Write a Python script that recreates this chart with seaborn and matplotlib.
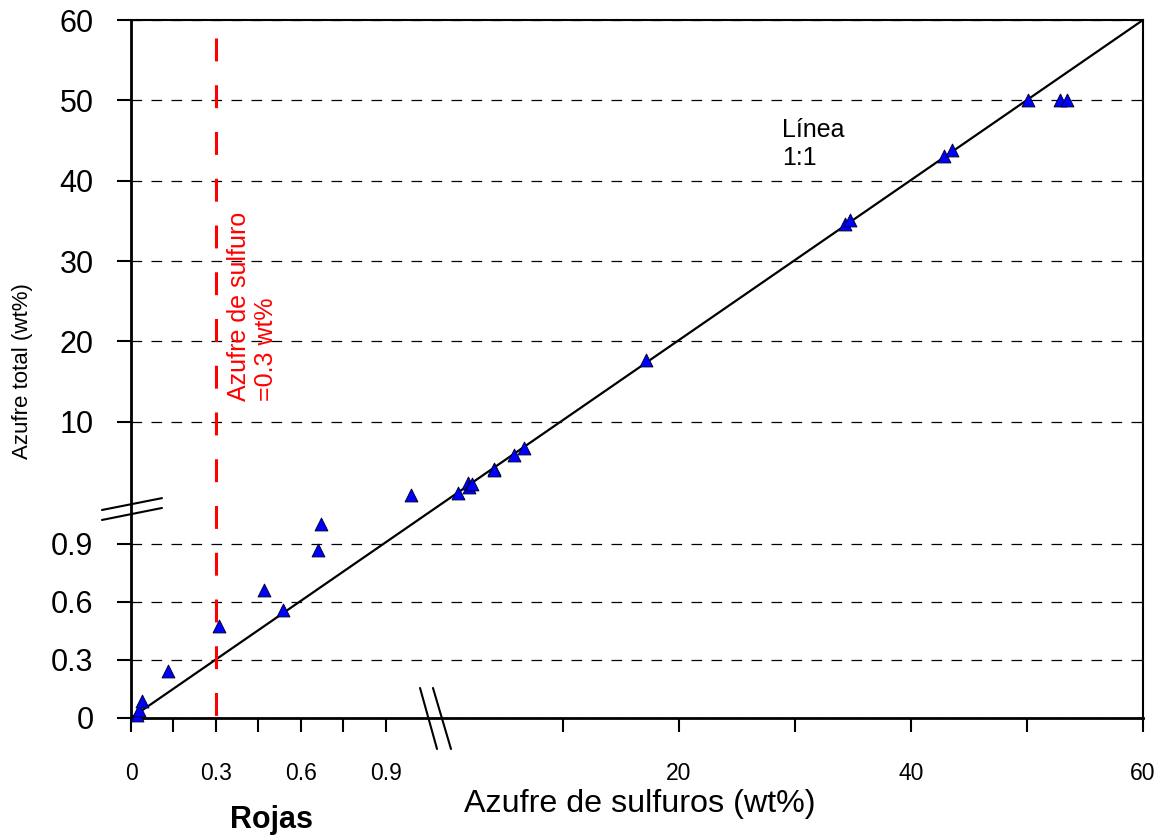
import numpy as np
import pandas as pd
import matplotlib
matplotlib.use('Agg')
import matplotlib.pyplot as plt
import seaborn as sns

# sulfide sulfur vs total sulfur (wt%)
sulfuro = [0.021, 0.029, 0.040, 0.130, 0.311, 0.469, 0.538, 0.660, 0.671, 0.988, 1.155,
           1.78, 1.90, 2.18, 4.05, 4.05, 5.80, 6.64, 17.13, 34.31, 34.74, 42.87, 43.56,
           50.09, 52.84, 53.45]
total = [0.016, 0.041, 0.088, 0.245, 0.476, 0.659, 0.559, 0.869, 1.002, 1.152, 1.162,
         2.36, 1.86, 2.27, 4.14, 3.93, 5.89, 6.72, 17.64, 34.55, 35.08, 43.06, 43.81,
         50.0, 50.0, 50.0]

x_ticks = [0, 0.15, 0.3, 0.45, 0.6, 0.75, 0.9, 10, 20, 30, 40, 50, 60]
x_labels = ['0', '', '0.3', '', '0.6', '', '0.9', '', '20', '', '40', '', '60']
y_ticks = [0, 0.3, 0.6, 0.9, 10, 20, 30, 40, 50, 60]
y_labels = ['0', '0.3', '0.6', '0.9', '10', '20', '30', '40', '50', '60']
umbral = 0.3          # sulfide S threshold
umbral_top = 57.8     # where the red dashed line stops
linea_11 = [0, 60]

df = pd.DataFrame({'sulfuro': sulfuro, 'total': total})

# broken axes: lower part (0 - ~1.16) stretched, upper part 0-60 compressed
XLO, XHI, XOFF = 283.3, 11.6, 316.0
YLO, YHI, YOFF = 193.3, 8.025, 215.75
XB = XOFF / (XLO - XHI)
YB = YOFF / (YLO - YHI)


def fwd_x(v):
    v = np.asarray(v, dtype=float)
    return np.where(v <= XB, v * XLO, XOFF + v * XHI)


def inv_x(t):
    t = np.asarray(t, dtype=float)
    return np.where(t <= XB * XLO, t / XLO, (t - XOFF) / XHI)


def fwd_y(v):
    v = np.asarray(v, dtype=float)
    return np.where(v <= YB, v * YLO, YOFF + v * YHI)


def inv_y(t):
    t = np.asarray(t, dtype=float)
    return np.where(t <= YB * YLO, t / YLO, (t - YOFF) / YHI)


sns.set_style('ticks')
plt.rcParams['font.family'] = ['Liberation Sans', 'DejaVu Sans']
plt.rcParams['text.color'] = 'black'
plt.rcParams['axes.labelcolor'] = 'black'
plt.rcParams['xtick.color'] = 'black'
plt.rcParams['ytick.color'] = 'black'

fig = plt.figure(figsize=(11.63, 8.40), dpi=100)
ax = fig.add_axes([0.11264, 0.14524, 0.87016, 0.83095])

ax.set_xscale('function', functions=(fwd_x, inv_x))
ax.set_yscale('function', functions=(fwd_y, inv_y))

# 1:1 line
ax.plot(linea_11, linea_11, color='black', lw=1.6, zorder=3)

# threshold line
ax.plot([umbral, umbral], [umbral_top, 0], color='#FF0000', lw=2.2,
        dashes=(7.5, 7.8), zorder=3, clip_on=False)

sns.scatterplot(data=df, x='sulfuro', y='total', marker='^', s=85,
                color='#0000FF', edgecolor='#000033', linewidth=0.7,
                zorder=5, ax=ax, clip_on=False, legend=False)

ax.set_xlim(0, 60)
ax.set_ylim(0, 60)
ax.set_xticks(x_ticks)
ax.set_xticklabels(x_labels)
ax.set_yticks(y_ticks)
ax.set_yticklabels(y_labels)
ax.xaxis.set_minor_locator(matplotlib.ticker.NullLocator())
ax.yaxis.set_minor_locator(matplotlib.ticker.NullLocator())

ax.tick_params(axis='x', direction='out', length=10, width=1.5, pad=22,
               labelsize=16.5, colors='black')
ax.tick_params(axis='y', direction='out', length=10, width=1.5, pad=17,
               labelsize=22, colors='black')
ax.grid(axis='y', color='black', lw=0.9, dashes=(8.5, 7.5))
ax.grid(axis='x', visible=False)
ax.set_axisbelow(True)

for side in ['left', 'bottom']:
    ax.spines[side].set_linewidth(2.0)
for side in ['top', 'right']:
    ax.spines[side].set_linewidth(1.5)
for s in ax.spines.values():
    s.set_color('black')

ax.set_xlabel('Azufre de sulfuros (wt%)', fontsize=23.2, color='black')
ax.xaxis.set_label_coords(0.503, -0.1347)
ax.xaxis.label.set_va('baseline')
ax.set_ylabel('Azufre total (wt%)', fontsize=16, color='black')
ax.yaxis.set_label_coords(-0.1077, 0.497)
ax.yaxis.label.set_va('center')

ax.text(0.12, 0.5896, 'Azufre de sulfuro\n=0.3 wt%', color='#FF0000', fontsize=18,
        rotation=90, ha='center', va='center', multialignment='left',
        transform=ax.transAxes)
ax.text(0.6433, 0.8224, 'Línea\n1:1', fontsize=18, color='black', ha='left',
        va='center', transform=ax.transAxes)
fig.text(271 / 1163, 1 - 828 / 840, 'Rojas', fontsize=22, fontweight='bold',
         color='black', ha='center', va='baseline')

# axis break marks
brk = dict(color='black', lw=1.5, transform=ax.transAxes, clip_on=False, zorder=6)
ax.plot([-0.0287, 0.0306], [0.298, 0.315], **brk)
ax.plot([-0.0287, 0.0306], [0.2837, 0.3009], **brk)
ax.plot([0.2856, 0.3024], [0.043, -0.0444], **brk)
ax.plot([0.2984, 0.3162], [0.043, -0.0444], **brk)

fig.savefig('out.png', dpi=100)
